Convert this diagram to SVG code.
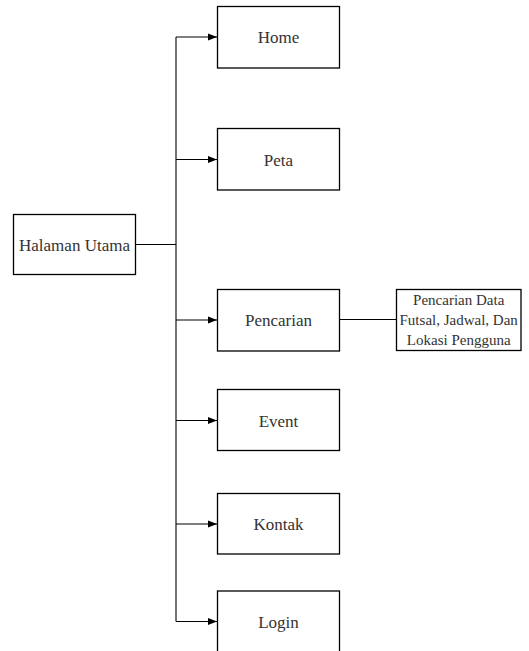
<svg xmlns="http://www.w3.org/2000/svg" width="529" height="651" viewBox="0 0 529 651">
<style>
.box{fill:#fff;stroke:#000;stroke-width:1.3}
.t{font-family:'Liberation Serif','Times New Roman',Tinos,'DejaVu Serif',serif;font-size:17px;fill:#333;text-anchor:middle}
.s{font-family:'Liberation Serif','Times New Roman',Tinos,'DejaVu Serif',serif;font-size:15px;fill:#333;text-anchor:middle}
.c{fill:none;stroke:#000;stroke-width:1.1}
</style>
<defs>
<marker id="ah" markerWidth="10" markerHeight="8" refX="9" refY="4" orient="auto" markerUnits="userSpaceOnUse">
<path d="M0,0.5 L9,4 L0,7.5 Z" fill="#000"/>
</marker>
</defs>
<rect width="529" height="651" fill="#fff"/>
<g id="connectors">
<path class="c" d="M135.5,244.5 H176"/>
<path class="c" d="M176,37 V621.5"/>
<path class="c" d="M176,37 H217" marker-end="url(#ah)"/>
<path class="c" d="M176,159.5 H217" marker-end="url(#ah)"/>
<path class="c" d="M176,320 H217" marker-end="url(#ah)"/>
<path class="c" d="M176,420.5 H217" marker-end="url(#ah)"/>
<path class="c" d="M176,524 H217" marker-end="url(#ah)"/>
<path class="c" d="M176,621.5 H217" marker-end="url(#ah)"/>
<path class="c" d="M339.5,319.5 H396.5"/>
</g>
<g id="halaman-utama">
<rect class="box" x="13.5" y="214.5" width="122" height="60"/>
<text class="t" x="74.5" y="250.5" font-family="Liberation Serif, serif">Halaman Utama</text>
</g>
<g id="home">
<rect class="box" x="217.5" y="6.5" width="122" height="61.5"/>
<text class="t" x="278.5" y="43.3">Home</text>
</g>
<g id="peta">
<rect class="box" x="217.5" y="128.5" width="122" height="61.5"/>
<text class="t" x="278.5" y="165.5">Peta</text>
</g>
<g id="pencarian">
<rect class="box" x="217.5" y="289.5" width="122" height="61.5"/>
<text class="t" x="278.5" y="326">Pencarian</text>
</g>
<g id="pencarian-data">
<rect class="box" x="396.5" y="289.5" width="124.5" height="61"/>
<text class="s" x="458.7" y="304.5">Pencarian Data</text>
<text class="s" x="458.7" y="324.5">Futsal, Jadwal, Dan</text>
<text class="s" x="458.7" y="344.5">Lokasi Pengguna</text>
</g>
<g id="event">
<rect class="box" x="217.5" y="389.5" width="122" height="61"/>
<text class="t" x="278.5" y="426.5">Event</text>
</g>
<g id="kontak">
<rect class="box" x="217.5" y="493.5" width="122" height="60.5"/>
<text class="t" x="278.5" y="530">Kontak</text>
</g>
<g id="login">
<rect class="box" x="217.5" y="591" width="122" height="62"/>
<text class="t" x="278.5" y="627.5">Login</text>
</g>
</svg>
